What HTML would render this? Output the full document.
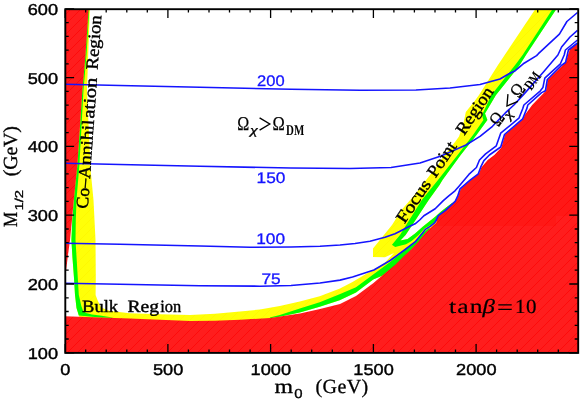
<!DOCTYPE html>
<html><head><meta charset="utf-8"><title>plot</title>
<style>html,body{margin:0;padding:0;background:#fff;overflow:hidden}svg{display:block;will-change:transform;text-rendering:geometricPrecision}</style></head>
<body>
<svg width="582" height="401" viewBox="0 0 582 401">
<defs>
<pattern id="h" width="10" height="10" patternUnits="userSpaceOnUse">
<rect width="10" height="10" fill="#ff1d1d"/>
<path d="M-1,11 L11,-1 M-1,1 L1,-1 M9,11 L11,9" stroke="#ff0a0a" stroke-width="0.95"/>
</pattern>
<pattern id="hy" width="10" height="10" patternUnits="userSpaceOnUse">
<rect width="10" height="10" fill="#ffff08"/>
<path d="M-1,11 L11,-1 M-1,1 L1,-1 M9,11 L11,9" stroke="#fff800" stroke-width="1.0"/>
</pattern>
<clipPath id="rc"><path d="M65.0,316.2 L100.0,317.4 L130.0,318.5 L160.0,319.8 L190.0,320.9 L215.0,320.8 L240.0,319.8 L270.0,318.0 L300.0,313.5 L320.0,309.0 L340.0,303.9 L356.0,296.0 L373.2,283.2 L384.0,274.0 L395.0,265.0 L404.0,256.0 L410.6,250.0 L418.1,241.9 L425.7,232.8 L430.2,228.3 L436.3,223.0 L437.8,217.0 L445.2,210.7 L454.0,203.1 L457.6,197.7 L460.7,188.9 L471.4,179.5 L478.9,173.8 L481.4,167.5 L487.7,160.0 L494.4,155.0 L501.3,147.7 L505.1,134.5 L522.7,119.4 L525.2,114.4 L532.2,105.0 L540.4,96.4 L546.0,90.8 L547.9,79.5 L561.7,66.3 L566.1,61.3 L568.0,55.0 L570.0,49.0 L578.0,42.4 L579.0,42.0 L579.0,354.0 L65.0,354.0Z"/></clipPath>
<clipPath id="cp"><rect x="65.3" y="9.2" width="512.9" height="343.7"/></clipPath>
</defs>
<rect width="582" height="401" fill="#fff"/>
<g clip-path="url(#cp)">
<path d="M535.4,9.0 L504.7,55.0 L498.0,65.0 L479.0,95.0 L475.4,100.0 L465.8,112.0 L465.0,116.0 L463.0,125.0 L459.0,136.5 L455.0,142.0 L448.5,150.0 L441.0,160.0 L434.5,170.0 L430.0,175.0 L421.5,186.0 L414.5,195.0 L401.5,210.0 L392.0,225.0 L373.0,248.5 L373.0,257.0 L385.0,257.3 L394.0,253.0 L384.0,263.5 L373.2,270.0 L365.1,274.5 L352.5,282.0 L340.0,288.5 L319.7,296.3 L299.8,301.5 L279.8,305.9 L259.9,309.5 L240.0,311.5 L215.0,313.8 L190.0,314.9 L160.0,314.3 L130.0,313.3 L110.0,311.0 L101.0,307.5 L97.5,300.0 L95.6,295.0 L95.8,278.0 L95.5,240.0 L93.5,200.0 L90.6,170.0 L87.0,90.0 L88.2,55.0 L89.9,9.0 L65.0,9.0 L65.0,353.0 L578.0,353.0 L578.0,9.0Z" fill="url(#hy)" />
<path d="M73.8,200.0 L72.3,220.0 L71.4,240.0 L72.5,258.0 L74.0,278.0 L75.0,295.0 L75.6,300.0 L76.5,308.0 L78.8,315.6 L80.0,318.0 L65.0,318.0 L65.0,200.0Z" fill="#fff" />
<path d="M556.4,9.0 L526.0,55.0 L519.7,65.0 L514.0,72.6 L496.0,95.0 L485.0,113.5 L487.4,120.0 L476.5,135.0 L460.7,155.0 L442.5,180.1 L439.5,185.0 L428.7,200.0 L412.3,225.0 L405.6,235.0 L400.4,240.6 L407.6,238.9 L415.1,233.6 L422.7,226.8 L430.2,220.8 L434.9,216.9 L441.0,211.6 L447.7,206.2 L452.5,202.8 L578.0,100.0 L578.0,9.0Z" fill="#fff" />
<path d="M270.0,318.2 L279.8,316.8 L299.8,312.5 L319.7,306.7 L339.6,300.2 L356.0,292.6 L373.2,279.5 L384.0,275.0 L384.0,300.0 L270.0,330.0Z" fill="#fff" />
<path d="M88.6,9.0 L85.5,55.0 L82.4,90.0 L77.4,165.0 L73.8,200.0 L72.3,220.0 L71.4,240.0 L72.5,258.0 L74.0,278.0 L75.0,295.0 L75.6,300.0 L76.5,308.0 L78.8,315.6 L100.0,317.4 L112.5,317.8 L112.5,317.4 L100.0,315.6 L92.0,314.6 L86.0,313.0 L83.0,310.5 L81.3,306.0 L80.0,300.0 L78.8,295.0 L77.8,278.0 L76.6,258.0 L75.5,240.0 L75.8,220.0 L76.5,200.0 L79.4,165.0 L83.5,90.0 L86.5,55.0 L89.3,9.0Z" fill="#00ff00" />
<path d="M269.9,317.5 L279.8,314.9 L299.8,308.5 L319.7,302.3 L339.6,294.3 L356.0,287.2 L373.2,274.5 L390.2,262.0 L404.5,250.5 L415.1,242.5 L422.7,233.5 L429.0,228.0 L430.2,229.0 L425.7,234.0 L418.1,243.0 L410.6,251.0 L395.0,266.0 L384.0,275.0 L373.2,279.5 L356.0,292.6 L339.6,300.2 L319.7,306.7 L299.8,312.5 L279.8,316.8 L270.0,318.2Z" fill="#00ff00" />
<path d="M556.4,9.0 L526.0,55.0 L519.7,65.0 L514.0,72.6 L496.0,95.0 L485.0,113.5 L487.4,120.0 L476.5,135.0 L460.7,155.0 L442.5,180.1 L439.5,185.0 L428.7,200.0 L412.3,225.0 L405.6,235.0 L400.4,240.6 L407.6,238.9 L415.1,233.6 L422.7,226.8 L430.2,220.8 L434.9,216.9 L441.0,211.6 L447.7,206.2 L452.5,202.8 L452.5,204.5 L447.7,209.0 L436.3,221.0 L430.2,225.3 L424.9,228.3 L418.9,234.7 L411.3,241.2 L406.0,244.2 L400.0,245.7 L395.2,247.0 L391.5,244.5 L392.0,244.7 L400.0,235.0 L406.2,225.0 L421.8,200.0 L438.0,180.1 L457.6,155.0 L473.0,135.0 L483.4,120.0 L482.0,115.0 L491.4,95.0 L515.2,65.0 L522.6,55.0 L552.6,9.0Z" fill="#00ff00" />
<path d="M65.0,9.0 L88.6,9.0 L85.5,55.0 L82.4,90.0 L77.4,165.0 L73.8,200.0 L72.0,220.0 L70.0,240.0 L68.0,255.0 L66.0,271.0 L65.0,275.0Z" fill="url(#h)" />
<path d="M65.0,316.2 L100.0,317.4 L130.0,318.5 L160.0,319.8 L190.0,320.9 L215.0,320.8 L240.0,319.8 L270.0,318.0 L300.0,313.5 L320.0,309.0 L340.0,303.9 L356.0,296.0 L373.2,283.2 L384.0,274.0 L395.0,265.0 L404.0,256.0 L410.6,250.0 L418.1,241.9 L425.7,232.8 L430.2,228.3 L436.3,223.0 L437.8,217.0 L445.2,210.7 L454.0,203.1 L457.6,197.7 L460.7,188.9 L471.4,179.5 L478.9,173.8 L481.4,167.5 L487.7,160.0 L494.4,155.0 L501.3,147.7 L505.1,134.5 L522.7,119.4 L525.2,114.4 L532.2,105.0 L540.4,96.4 L546.0,90.8 L547.9,79.5 L561.7,66.3 L566.1,61.3 L568.0,55.0 L570.0,49.0 L578.0,42.4 L579.0,42.0 L579.0,354.0 L65.0,354.0Z" fill="url(#h)" />
<path d="M380,0H556V226H380Z M556,0H579V216H556Z" fill="#ff0800" opacity="0.22" clip-path="url(#rc)"/>
<path d="M65.0,84.3 L120.0,85.5 L200.0,87.3 L291.0,89.3 L360.0,90.3 L416.0,90.0 L450.0,88.0 L480.0,84.5 L500.0,79.0 L509.0,73.8 L515.3,70.7 L524.1,63.2 L536.6,55.6 L538.4,53.7 L559.4,34.2 L566.9,21.5 L577.5,12.5" fill="none" stroke="#1414ff" stroke-width="1.6" stroke-linejoin="round"/>
<path d="M65.0,163.3 L120.0,164.5 L200.0,166.3 L291.0,168.0 L350.0,168.5 L391.0,167.5 L420.0,163.0 L441.0,156.0 L466.0,145.0 L480.0,136.4 L492.5,126.3 L505.1,113.2 L513.9,105.0 L525.3,92.6 L544.1,71.3 L557.9,55.0 L561.6,47.0 L570.0,37.0 L577.5,30.4" fill="none" stroke="#1414ff" stroke-width="1.6" stroke-linejoin="round"/>
<path d="M65.0,243.3 L120.0,244.3 L200.0,246.0 L250.0,247.3 L291.0,247.0 L320.0,246.3 L340.0,245.0 L355.0,243.5 L370.0,241.2 L385.0,237.3 L395.0,233.7 L400.0,231.2 L407.6,227.3 L415.1,223.8 L419.7,220.0 L423.9,215.7 L435.2,208.8 L443.3,200.6 L448.8,195.8 L455.0,190.8 L458.8,186.4 L468.9,174.4 L476.4,167.5 L479.5,160.0 L485.6,153.9 L496.3,145.8 L500.7,133.2 L518.9,118.2 L522.7,108.8 L523.9,105.0 L540.4,90.8 L542.9,87.6 L544.8,78.2 L560.4,63.8 L564.2,55.0 L565.4,50.0 L577.5,40.0" fill="none" stroke="#1414ff" stroke-width="1.6" stroke-linejoin="round"/>
<path d="M65.0,283.3 L120.0,284.3 L200.0,285.8 L260.0,286.2 L291.0,285.5 L320.0,283.0 L340.0,280.1 L352.5,277.0 L373.9,270.0 L390.2,260.5 L404.5,250.0 L415.1,241.9 L422.7,232.8 L425.7,229.1 L430.2,226.4 L434.8,222.6 L436.3,220.0 L438.3,215.7 L445.2,210.7 L455.2,201.3 L457.6,196.4 L460.0,188.9 L470.1,180.1 L478.3,173.8 L480.8,166.9 L483.9,160.6 L489.4,155.0 L500.7,147.0 L504.5,134.5 L522.7,118.8 L527.0,108.1 L527.8,105.0 L541.6,92.6 L545.4,90.8 L547.3,79.5 L561.1,65.7 L565.5,62.5 L567.3,55.0 L568.4,50.0 L577.5,43.0" fill="none" stroke="#1414ff" stroke-width="1.6" stroke-linejoin="round"/>
</g>
<rect x="65.3" y="9.2" width="512.9" height="343.7" fill="none" stroke="#000" stroke-width="1.9"/>
<path d="M65.2,352.8v-8.8 M65.2,9.2v8.8 M85.7,352.8v-3.4 M85.7,9.2v3.4 M106.2,352.8v-3.4 M106.2,9.2v3.4 M126.8,352.8v-3.4 M126.8,9.2v3.4 M147.3,352.8v-3.4 M147.3,9.2v3.4 M167.9,352.8v-8.8 M167.9,9.2v8.8 M188.4,352.8v-3.4 M188.4,9.2v3.4 M209.0,352.8v-3.4 M209.0,9.2v3.4 M229.5,352.8v-3.4 M229.5,9.2v3.4 M250.1,352.8v-3.4 M250.1,9.2v3.4 M270.6,352.8v-8.8 M270.6,9.2v8.8 M291.2,352.8v-3.4 M291.2,9.2v3.4 M311.7,352.8v-3.4 M311.7,9.2v3.4 M332.3,352.8v-3.4 M332.3,9.2v3.4 M352.8,352.8v-3.4 M352.8,9.2v3.4 M373.4,352.8v-8.8 M373.4,9.2v8.8 M393.9,352.8v-3.4 M393.9,9.2v3.4 M414.4,352.8v-3.4 M414.4,9.2v3.4 M435.0,352.8v-3.4 M435.0,9.2v3.4 M455.5,352.8v-3.4 M455.5,9.2v3.4 M476.1,352.8v-8.8 M476.1,9.2v8.8 M496.6,352.8v-3.4 M496.6,9.2v3.4 M517.2,352.8v-3.4 M517.2,9.2v3.4 M537.7,352.8v-3.4 M537.7,9.2v3.4 M558.3,352.8v-3.4 M558.3,9.2v3.4 M65.3,352.8h8.8 M578.1,352.8h-8.8 M65.3,339.0h3.4 M578.1,339.0h-3.4 M65.3,325.3h3.4 M578.1,325.3h-3.4 M65.3,311.5h3.4 M578.1,311.5h-3.4 M65.3,297.8h3.4 M578.1,297.8h-3.4 M65.3,284.0h8.8 M578.1,284.0h-8.8 M65.3,270.2h3.4 M578.1,270.2h-3.4 M65.3,256.5h3.4 M578.1,256.5h-3.4 M65.3,242.7h3.4 M578.1,242.7h-3.4 M65.3,229.0h3.4 M578.1,229.0h-3.4 M65.3,215.2h8.8 M578.1,215.2h-8.8 M65.3,201.4h3.4 M578.1,201.4h-3.4 M65.3,187.7h3.4 M578.1,187.7h-3.4 M65.3,173.9h3.4 M578.1,173.9h-3.4 M65.3,160.2h3.4 M578.1,160.2h-3.4 M65.3,146.4h8.8 M578.1,146.4h-8.8 M65.3,132.6h3.4 M578.1,132.6h-3.4 M65.3,118.9h3.4 M578.1,118.9h-3.4 M65.3,105.1h3.4 M578.1,105.1h-3.4 M65.3,91.4h3.4 M578.1,91.4h-3.4 M65.3,77.6h8.8 M578.1,77.6h-8.8 M65.3,63.8h3.4 M578.1,63.8h-3.4 M65.3,50.1h3.4 M578.1,50.1h-3.4 M65.3,36.3h3.4 M578.1,36.3h-3.4 M65.3,22.6h3.4 M578.1,22.6h-3.4 M65.3,8.8h8.8 M578.1,8.8h-8.8" stroke="#000" stroke-width="1.3" fill="none"/>
<text transform="translate(58.00,358.70) scale(1.150,1)" text-anchor="end" font-family="Liberation Sans, sans-serif" font-size="15.80" fill="#000" stroke="#000" stroke-width="0.40" >100</text>
<text transform="translate(58.00,289.90) scale(1.150,1)" text-anchor="end" font-family="Liberation Sans, sans-serif" font-size="15.80" fill="#000" stroke="#000" stroke-width="0.40" >200</text>
<text transform="translate(58.00,221.10) scale(1.150,1)" text-anchor="end" font-family="Liberation Sans, sans-serif" font-size="15.80" fill="#000" stroke="#000" stroke-width="0.40" >300</text>
<text transform="translate(58.00,152.30) scale(1.150,1)" text-anchor="end" font-family="Liberation Sans, sans-serif" font-size="15.80" fill="#000" stroke="#000" stroke-width="0.40" >400</text>
<text transform="translate(58.00,83.50) scale(1.150,1)" text-anchor="end" font-family="Liberation Sans, sans-serif" font-size="15.80" fill="#000" stroke="#000" stroke-width="0.40" >500</text>
<text transform="translate(58.00,14.70) scale(1.150,1)" text-anchor="end" font-family="Liberation Sans, sans-serif" font-size="15.80" fill="#000" stroke="#000" stroke-width="0.40" >600</text>
<text transform="translate(65.35,374.60) scale(1.150,1)" text-anchor="middle" font-family="Liberation Sans, sans-serif" font-size="15.80" fill="#000" stroke="#000" stroke-width="0.40" >0</text>
<text transform="translate(168.09,374.60) scale(1.150,1)" text-anchor="middle" font-family="Liberation Sans, sans-serif" font-size="15.80" fill="#000" stroke="#000" stroke-width="0.40" >500</text>
<text transform="translate(270.82,374.60) scale(1.150,1)" text-anchor="middle" font-family="Liberation Sans, sans-serif" font-size="15.80" fill="#000" stroke="#000" stroke-width="0.40" >1000</text>
<text transform="translate(373.56,374.60) scale(1.150,1)" text-anchor="middle" font-family="Liberation Sans, sans-serif" font-size="15.80" fill="#000" stroke="#000" stroke-width="0.40" >1500</text>
<text transform="translate(476.29,374.60) scale(1.150,1)" text-anchor="middle" font-family="Liberation Sans, sans-serif" font-size="15.80" fill="#000" stroke="#000" stroke-width="0.40" >2000</text>
<text transform="translate(270.80,85.90) scale(1.080,1)" text-anchor="middle" font-family="Liberation Sans, sans-serif" font-size="15.30" fill="#1414ff" stroke="#1414ff" stroke-width="0.30" >200</text>
<text transform="translate(271.00,182.70) scale(1.130,1)" text-anchor="middle" font-family="Liberation Sans, sans-serif" font-size="15.30" fill="#1414ff" stroke="#1414ff" stroke-width="0.30" >150</text>
<text transform="translate(270.60,244.10) scale(1.130,1)" text-anchor="middle" font-family="Liberation Sans, sans-serif" font-size="15.30" fill="#1414ff" stroke="#1414ff" stroke-width="0.30" >100</text>
<text transform="translate(271.00,283.70) scale(1.130,1)" text-anchor="middle" font-family="Liberation Sans, sans-serif" font-size="15.30" fill="#1414ff" stroke="#1414ff" stroke-width="0.30" >75</text>
<text transform="translate(274.40,393.30) scale(1.190,1)" text-anchor="start" font-family="Liberation Serif, serif" font-size="20.00" fill="#000" stroke="#000" stroke-width="0.30" >m</text>
<text transform="translate(294.30,398.40) scale(1.150,1)" text-anchor="start" font-family="Liberation Sans, sans-serif" font-size="13.00" fill="#000" stroke="#000" stroke-width="0.30" >0</text>
<text transform="translate(315.50,393.30)" text-anchor="start" font-family="Liberation Serif, serif" font-size="20.00" fill="#000" stroke="#000" stroke-width="0.30" textLength="52.7" lengthAdjust="spacing">(GeV)</text>
<text transform="translate(17.00,227.00) rotate(-90.00) scale(0.850,1)" text-anchor="start" font-family="Liberation Serif, serif" font-size="20.00" fill="#000" stroke="#000" stroke-width="0.30" >M</text>
<text transform="translate(22.80,210.60) rotate(-90.00) scale(1.300,1)" text-anchor="start" font-family="Liberation Sans, sans-serif" font-size="11.50" fill="#000" stroke="#000" stroke-width="0.30" >1/2</text>
<text transform="translate(16.60,176.30) rotate(-90.00)" text-anchor="start" font-family="Liberation Serif, serif" font-size="20.00" fill="#000" stroke="#000" stroke-width="0.30" textLength="50.3" lengthAdjust="spacing">(GeV)</text>
<text transform="translate(87.80,208.90) rotate(-86.00)" text-anchor="start" font-family="Liberation Serif, serif" font-size="17.30" fill="#000" stroke="#000" stroke-width="0.40" textLength="42.9" lengthAdjust="spacingAndGlyphs">Co&#8211;A</text>
<text transform="translate(90.85,165.30) rotate(-86.00)" text-anchor="start" font-family="Liberation Serif, serif" font-size="17.30" fill="#000" stroke="#000" stroke-width="0.40" textLength="45.4" lengthAdjust="spacingAndGlyphs">nnihil</text>
<text transform="translate(94.10,118.80) rotate(-86.00)" text-anchor="start" font-family="Liberation Serif, serif" font-size="17.30" fill="#000" stroke="#000" stroke-width="0.40" textLength="40.8" lengthAdjust="spacingAndGlyphs">ation</text>
<text transform="translate(97.52,69.90) rotate(-86.00)" text-anchor="start" font-family="Liberation Serif, serif" font-size="17.30" fill="#000" stroke="#000" stroke-width="0.40" textLength="54.5" lengthAdjust="spacingAndGlyphs">Region</text>
<text transform="translate(82.00,311.50)" text-anchor="start" font-family="Liberation Serif, serif" font-size="17.30" fill="#000" stroke="#000" stroke-width="0.40" textLength="36.1" lengthAdjust="spacingAndGlyphs">Bulk</text>
<text transform="translate(127.50,311.50)" text-anchor="start" font-family="Liberation Serif, serif" font-size="17.30" fill="#000" stroke="#000" stroke-width="0.40" textLength="31.6" lengthAdjust="spacingAndGlyphs">Reg</text>
<text transform="translate(160.20,311.50)" text-anchor="start" font-family="Liberation Serif, serif" font-size="17.30" fill="#000" stroke="#000" stroke-width="0.40" textLength="21.0" lengthAdjust="spacingAndGlyphs">ion</text>
<text transform="translate(404.60,224.30) rotate(-56.00)" text-anchor="start" font-family="Liberation Serif, serif" font-size="17.30" fill="#000" stroke="#000" stroke-width="0.40" textLength="48.5" lengthAdjust="spacingAndGlyphs">Focus</text>
<text transform="translate(435.52,178.45) rotate(-56.00)" text-anchor="start" font-family="Liberation Serif, serif" font-size="17.30" fill="#000" stroke="#000" stroke-width="0.40" textLength="39" lengthAdjust="spacingAndGlyphs">Point</text>
<text transform="translate(464.20,135.92) rotate(-56.00)" text-anchor="start" font-family="Liberation Serif, serif" font-size="17.30" fill="#000" stroke="#000" stroke-width="0.40" textLength="53.5" lengthAdjust="spacingAndGlyphs">Region</text>
<text transform="translate(449.00,312.50) scale(1.280,1)" text-anchor="start" font-family="Liberation Serif, serif" font-size="20.00" fill="#000" stroke="#000" stroke-width="0.15" textLength="26.2" lengthAdjust="spacing">tan</text>
<text transform="translate(482.40,312.50)" text-anchor="start" font-family="Liberation Serif, serif" font-size="20.00" fill="#000" stroke="#000" stroke-width="0.20" font-style="italic" textLength="12.4" lengthAdjust="spacingAndGlyphs">β</text>
<path d="M498.3,304.8h13.4M498.3,309.3h13.4" stroke="#000" stroke-width="1.25" fill="none"/>
<text transform="translate(514.90,312.50) scale(1.050,1)" text-anchor="start" font-family="Liberation Serif, serif" font-size="20.00" fill="#000" stroke="#000" stroke-width="0.20" textLength="20.6" lengthAdjust="spacing">10</text>
<g transform="translate(237.60,129.40) rotate(0.00)"><text transform="translate(-0.30,0.30)" text-anchor="start" font-family="Liberation Serif, serif" font-size="19.60" fill="#000" stroke="#000" stroke-width="0.25" textLength="12.0" lengthAdjust="spacingAndGlyphs">Ω</text><text transform="translate(12.60,4.40)" text-anchor="start" font-family="Liberation Serif, serif" font-size="12.50" fill="#000" stroke="#000" stroke-width="0.35" font-style="italic" textLength="7.3" lengthAdjust="spacingAndGlyphs">χ</text><path d="M22.0,-11.6L32.2,-5.4L22.0,0.8" stroke="#000" stroke-width="1.35" fill="none"/><text transform="translate(34.90,0.30)" text-anchor="start" font-family="Liberation Serif, serif" font-size="19.60" fill="#000" stroke="#000" stroke-width="0.25" textLength="12.3" lengthAdjust="spacingAndGlyphs">Ω</text><text transform="translate(48.50,5.30)" text-anchor="start" font-family="Liberation Serif, serif" font-size="14.80" fill="#000" stroke="#000" stroke-width="0.00" font-weight="bold" textLength="18.2" lengthAdjust="spacingAndGlyphs">DM</text></g>
<g transform="translate(498.40,127.00) rotate(-54.00)"><text transform="translate(-0.30,0.30)" text-anchor="start" font-family="Liberation Serif, serif" font-size="19.60" fill="#000" stroke="#000" stroke-width="0.25" textLength="12.0" lengthAdjust="spacingAndGlyphs">Ω</text><text transform="translate(12.60,4.40)" text-anchor="start" font-family="Liberation Serif, serif" font-size="12.50" fill="#000" stroke="#000" stroke-width="0.35" font-style="italic" textLength="7.3" lengthAdjust="spacingAndGlyphs">χ</text><path d="M32.2,-11.6L22.0,-5.4L32.2,0.8" stroke="#000" stroke-width="1.35" fill="none"/><text transform="translate(34.90,0.30)" text-anchor="start" font-family="Liberation Serif, serif" font-size="19.60" fill="#000" stroke="#000" stroke-width="0.25" textLength="12.3" lengthAdjust="spacingAndGlyphs">Ω</text><text transform="translate(48.50,5.30)" text-anchor="start" font-family="Liberation Serif, serif" font-size="14.80" fill="#000" stroke="#000" stroke-width="0.00" font-weight="bold" textLength="18.2" lengthAdjust="spacingAndGlyphs">DM</text></g>
</svg>
</body></html>
